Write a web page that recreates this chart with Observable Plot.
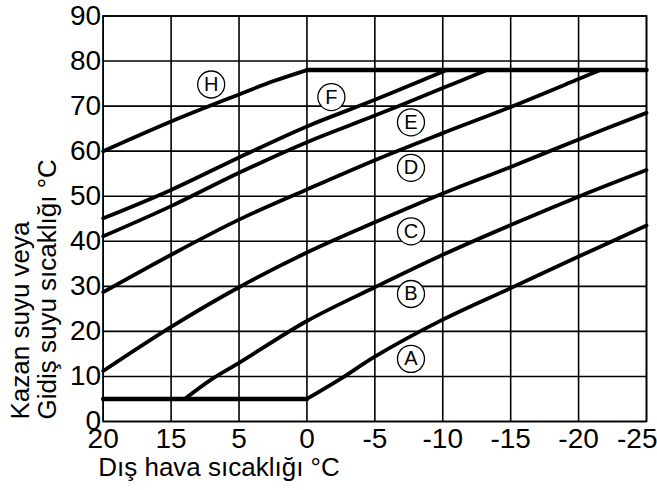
<!DOCTYPE html>
<html>
<head>
<meta charset="utf-8">
<script src="https://cdn.jsdelivr.net/npm/d3@7"></script>
<script src="https://cdn.jsdelivr.net/npm/@observablehq/plot@0.6"></script>
<style>
  html, body { margin: 0; padding: 0; background: white; }
</style>
</head>
<body>
<div id="chart"></div>
<script>
// Tick positions (equal spacing) and their printed labels as in the original
const xTicks = [15, 10, 5, 0, -5, -10, -15, -20, -25];
const xTickLabels = ["20", "15", "5", "0", "-5", "-10", "-15", "-20", "-25"];
const yTicks = [0, 10, 20, 30, 40, 50, 60, 70, 80, 90];

// Heating curves (x in tick-position units, y in °C)
const curveA_x = [0, -2.5, -5, -10, -15, -20, -25];
const curveA_y = [5, 9.5, 14.4, 22.6, 29.6, 36.6, 43.5];
const curveB_x = [9, 7, 5, 0, -5, -10, -15, -20, -25];
const curveB_y = [5, 9.4, 13, 22.3, 29.8, 37, 43.6, 49.9, 55.8];
const curveC_x = [15, 10, 5, 0, -5, -10, -15, -20, -25];
const curveC_y = [11.2, 21.0, 29.8, 37.5, 44.2, 50.6, 56.5, 62.6, 68.5];
const curveD_x = [15, 10, 5, 0, -5, -10, -15, -20, -21.6];
const curveD_y = [28.7, 37, 44.8, 51.5, 58, 64, 69.8, 76, 78];
const curveE_x = [15, 10, 5, 0, -5, -10, -13.25];
const curveE_y = [41.1, 47.8, 55.2, 62.0, 67.9, 74.0, 78];
const curveF_x = [15, 10, 5, 0, -5, -10.3];
const curveF_y = [45.1, 51.4, 58.6, 65.5, 71.4, 78];
const curveH_x = [15, 10, 5, 2.5, 0];
const curveH_y = [60, 66.6, 72.6, 75.5, 78];

// Limits: minimum and maximum flow temperature
const minLine_x = [15, 0];
const minLine_y = [5, 5];
const maxLine_x = [0, -25];
const maxLine_y = [78, 78];

// Curve labels
const labelText = ["H", "F", "E", "D", "C", "B", "A"];
const labelX = [7.05, -1.8, -7.66, -7.66, -7.66, -7.66, -7.66];
const labelY = [74.8, 72.0, 66.4, 56.3, 42.2, 28.3, 13.9];

const curves = [
  ["A", curveA_x, curveA_y], ["B", curveB_x, curveB_y], ["C", curveC_x, curveC_y],
  ["D", curveD_x, curveD_y], ["E", curveE_x, curveE_y], ["F", curveF_x, curveF_y],
  ["H", curveH_x, curveH_y]
];
const curveRows = curves.flatMap(([name, xs, ys]) => xs.map((x, i) => ({curve: name, x, y: ys[i]})));
const limitRows = [
  ...minLine_x.map((x, i) => ({curve: "min", x, y: minLine_y[i]})),
  ...maxLine_x.map((x, i) => ({curve: "max", x, y: maxLine_y[i]}))
];
const labels = labelText.map((t, i) => ({t, x: labelX[i], y: labelY[i]}));

const fmtX = d => xTickLabels[xTicks.indexOf(d)];
const font = "'Liberation Sans', Arial, Helvetica, sans-serif";
const tickFont = 28;

const chart = Plot.plot({
  width: 657,
  height: 490,
  marginLeft: 102.7,
  marginRight: 11,
  marginTop: 15.5,
  marginBottom: 69,
  style: {fontFamily: font, fontSize: "26px", color: "black", background: "white"},
  x: {domain: [15, -25]},
  y: {domain: [0, 90]},
  marks: [
    Plot.gridX(xTicks, {stroke: "black", strokeOpacity: 1, strokeWidth: 1.6}),
    Plot.gridY(yTicks, {stroke: "black", strokeOpacity: 1, strokeWidth: 1.6}),
    Plot.frame({stroke: "black", strokeWidth: 1.6}),
    Plot.axisX(xTicks.slice(0, -1), {tickFormat: fmtX, tickSize: 0, tickPadding: 7, fontSize: tickFont, label: null}),
    Plot.text(xTicks.slice(-1), {x: d => d, text: fmtX, frameAnchor: "bottom", textAnchor: "end", lineAnchor: "top", dx: 11, dy: 7, fontSize: tickFont, fill: "black"}),
    Plot.axisY(yTicks, {tickSize: 0, tickPadding: 2, fontSize: tickFont, label: null}),
    Plot.line(curveRows, {x: "x", y: "y", z: "curve", curve: "catmull-rom", stroke: "black", strokeWidth: 3.8, strokeLinecap: "round"}),
    Plot.line(limitRows, {x: "x", y: "y", z: "curve", stroke: "black", strokeWidth: 4.5}),
    Plot.dot(labels, {x: "x", y: "y", r: 13.5, fill: "white", stroke: "black", strokeWidth: 1.3}),
    Plot.text(labels, {x: "x", y: "y", text: "t", fontSize: 20, fill: "black"}),
    Plot.text(["Dış hava sıcaklığı °C"], {text: d => d, frameAnchor: "bottom-left", dx: -5, dy: 54, textAnchor: "start", fontSize: 26, fill: "black"}),
    Plot.text(["Kazan suyu veya\nGidiş suyu sıcaklığı °C"], {text: d => d, frameAnchor: "bottom-left", rotate: -90, textAnchor: "start", dx: -47, dy: -2, lineHeight: 1.03, fontSize: 26, fill: "black"})
  ]
});
document.getElementById("chart").appendChild(chart);
</script>
</body>
</html>
